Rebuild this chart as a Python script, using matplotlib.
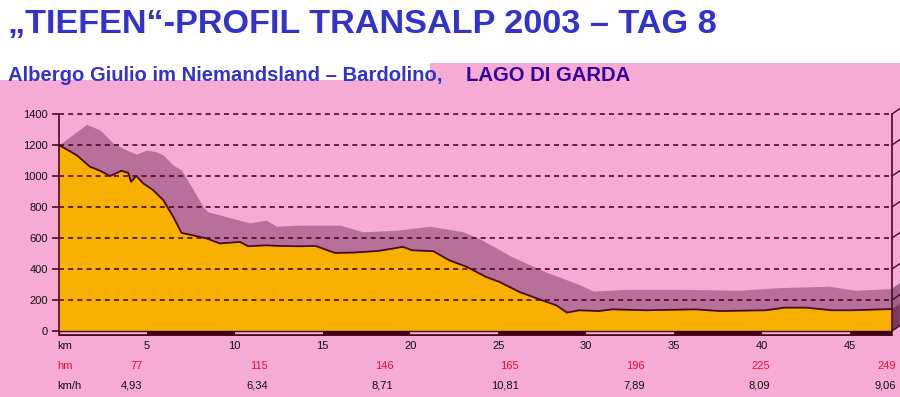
import matplotlib
matplotlib.use("Agg")
import matplotlib.pyplot as plt
from matplotlib.patches import Rectangle, Polygon

# ---------------- data ----------------
ground_km = [0, 1.0, 1.76, 2.33, 2.9, 3.56, 3.94, 4.1, 4.4, 4.8, 5.36, 5.93, 6.5, 6.97,
             7.6, 8.4, 9.15, 10.3, 10.76, 11.8, 12.55, 13.7, 14.6, 15.7, 16.7, 18.2,
             19.56, 20.1, 21.3, 22.2, 23.2, 24.3, 25.06, 26.2, 27.5, 28.3, 28.9, 29.6,
             30.7, 31.5, 33.4, 36.2, 37.6, 40.2, 41.3, 42.5, 44.0, 45.1, 47.4]
ground_alt = [1200, 1135, 1060, 1034, 1000, 1034, 1020, 963, 1000, 952, 909, 845, 737, 633,
              618, 597, 565, 575, 547, 553, 549, 547, 549, 504, 506, 517,
              543, 521, 515, 457, 414, 349, 317, 252, 198, 166, 119, 134,
              129, 140, 134, 140, 129, 134, 151, 151, 134, 134, 142]

upper_km = [0, 1.57, 2.33, 3.09, 3.85, 4.4, 4.98, 5.55, 5.93, 6.5, 6.97, 7.54, 8.2, 8.48,
            9.9, 10.85, 11.8, 12.37, 13.7, 16.0, 17.3, 19.2, 21.1, 23.0, 23.9, 25.8,
            27.7, 29.6, 30.4, 32.4, 35.3, 38.7, 41.0, 43.8, 45.3, 47.4]
upper_alt = [1200, 1333, 1297, 1211, 1167, 1141, 1167, 1156, 1135, 1070, 1038, 930, 801, 769,
             726, 698, 715, 676, 683, 683, 640, 650, 676, 640, 597, 478,
             381, 300, 258, 269, 269, 263, 280, 289, 263, 274]

y_ticks = [0, 200, 400, 600, 800, 1000, 1200, 1400]
km_ticks = [5, 10, 15, 20, 25, 30, 35, 40, 45]
hm_labels = ["77", "115", "146", "165", "196", "225", "249"]
kmh_labels = ["4,93", "6,34", "8,71", "10,81", "7,89", "8,09", "9,06"]

title = "\u201eTIEFEN\u201c-PROFIL TRANSALP 2003 \u2013 TAG 8"
subtitle1 = "Albergo Giulio im Niemandsland \u2013 Bardolino, "
subtitle2 = "LAGO DI GARDA"

# ---------------- style ----------------
PINK = "#F5ABD3"
ORANGE = "#F8B000"
PURPLE = "#B6709A"
DARK = "#4A0A22"
BLUE = "#3333CC"
DBLUE = "#330099"
RED = "#E0103A"

TFONT = ["Liberation Sans", "DejaVu Sans"]

W, H = 900, 397
fig = plt.figure(figsize=(W / 100, H / 100), dpi=100)
fig.patch.set_facecolor("white")

def fx(px):
    return px / W

def fy(py):
    return 1 - py / H

# pink backgrounds
fig.patches.append(Rectangle((0, 0), 1, fy(80), transform=fig.transFigure,
                             facecolor=PINK, edgecolor="none", zorder=-5))
fig.patches.append(Rectangle((fx(430), fy(80)), 1 - fx(430), fy(63) - fy(80),
                             transform=fig.transFigure, facecolor=PINK,
                             edgecolor="none", zorder=-5))

# titles
t = fig.text(fx(8), fy(33), title, color=BLUE, fontsize=24, fontweight="bold",
             family=TFONT, ha="left", va="baseline")
s1 = fig.text(fx(8), fy(81), subtitle1, color=BLUE, fontsize=13, fontweight="bold",
              family=TFONT, ha="left", va="baseline")
fig.canvas.draw()
r = fig.canvas.get_renderer()
bb = t.get_window_extent(r)
t.set_fontsize(24 * (720 - 8) / bb.width)
bb1 = s1.get_window_extent(r)
s1.set_fontsize(13 * (448 - 8) / bb1.width)
fig.text(fx(466), fy(81), subtitle2, color=DBLUE, fontsize=s1.get_fontsize(),
         fontweight="bold", family=TFONT, ha="left", va="baseline")

# axes
ax_left, ax_right, ax_top, ax_bot = 59, 892, 114, 336
ax = fig.add_axes([fx(ax_left), fy(ax_bot), fx(ax_right) - fx(ax_left), fy(ax_top) - fy(ax_bot)])
ax.set_facecolor("none")
XMAX = 47.4
YMIN = -32
ax.set_xlim(0, XMAX)
ax.set_ylim(YMIN, 1400)

ax.fill_between(upper_km, 0, upper_alt, color=PURPLE, lw=0, zorder=2)
ax.fill_between(ground_km, 0, ground_alt, color=ORANGE, lw=0, zorder=3)
ax.plot(ground_km, ground_alt, color=DARK, lw=1.3, zorder=4)

# dashed grid
for g in y_ticks[1:]:
    ax.plot([0, XMAX], [g, g], color=DARK, lw=1.2, ls=(0, (3, 2.5)), zorder=5,
            clip_on=False)

# bottom scale bar
ax.add_patch(Rectangle((0, YMIN + 4), XMAX, -YMIN - 4, facecolor=PINK, edgecolor=DARK,
                       lw=1, zorder=6))
for i, k in enumerate(range(0, 50, 5)):
    if i % 2 == 1:
        ax.add_patch(Rectangle((k, YMIN + 4), min(5, XMAX - k), -YMIN - 4,
                               facecolor="#3A0012", edgecolor="none", zorder=7))

# 3D right side
dx, dy = 0.45, 35
ax.add_patch(Polygon([(XMAX, 0), (XMAX + dx, dy), (XMAX + dx, ground_alt[-1] + dy),
                      (XMAX, ground_alt[-1])], closed=True, facecolor="#7A3A5C",
                     edgecolor="none", clip_on=False, zorder=3))
ax.add_patch(Polygon([(XMAX, ground_alt[-1]), (XMAX + dx, ground_alt[-1] + dy),
                      (XMAX + dx, upper_alt[-1] + dy), (XMAX, upper_alt[-1])], closed=True,
                     facecolor="#A0608A", edgecolor="none", clip_on=False, zorder=2))
ax.plot([XMAX, XMAX], [YMIN + 4, 1400], color=DARK, lw=1.2, zorder=8, clip_on=False)
for g in y_ticks:
    ax.plot([XMAX, XMAX + dx], [g, g + dy], color=DARK, lw=1.0, zorder=8, clip_on=False)
ax.plot([0, XMAX], [YMIN + 4, YMIN + 4], color=DARK, lw=1.2, zorder=8)

# spines / ticks
for sp in ["top", "right", "bottom"]:
    ax.spines[sp].set_visible(False)
ax.spines["left"].set_color(DARK)
ax.spines["left"].set_linewidth(1.2)
ax.spines["left"].set_bounds(YMIN + 4, 1400)
ax.spines["left"].set_zorder(9)
ax.set_yticks(y_ticks)
ax.set_yticklabels([str(v) for v in y_ticks])
ax.tick_params(axis="y", length=5, width=1.2, color=DARK, pad=3, labelsize=8,
               labelcolor="#111111")
for lab in ax.get_yticklabels():
    lab.set_family("Liberation Sans")
ax.set_xticks([])

# bottom label rows
tr = ax.get_xaxis_transform()
def ypos(py):
    return (fy(py) - fy(ax_bot)) / (fy(ax_top) - fy(ax_bot))

lf = "Liberation Sans"
xl = -2 / (ax_right - ax_left)
ax.text(xl, ypos(346), "km", transform=ax.transAxes, ha="left", va="center",
        fontsize=8, family=lf, color="#111111")
ax.text(xl, ypos(366), "hm", transform=ax.transAxes, ha="left",
        va="center", fontsize=8, family=lf, color=RED)
ax.text(xl, ypos(386), "km/h", transform=ax.transAxes, ha="left",
        va="center", fontsize=8, family=lf, color="#111111")
for k in km_ticks:
    ax.text(k, ypos(346), str(k), transform=tr, ha="center", va="center", fontsize=8,
            family=lf, color="#111111")
n = len(hm_labels)
for i in range(n):
    k = 4.76 + i * (47.6 - 4.76) / (n - 1)
    ax.text(k, ypos(366), hm_labels[i], transform=tr, ha="right", va="center",
            fontsize=8, family=lf, color=RED)
    ax.text(k, ypos(386), kmh_labels[i], transform=tr, ha="right", va="center",
            fontsize=8, family=lf, color="#111111")

fig.savefig("out.png", dpi=100, facecolor=fig.get_facecolor())
